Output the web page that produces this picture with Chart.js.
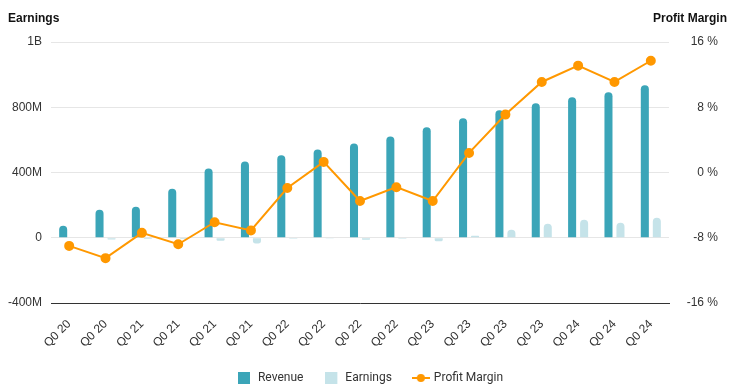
<!DOCTYPE html>
<html>
<head>
<meta charset="utf-8">
<script src="https://cdn.jsdelivr.net/npm/chart.js@4.4.1/dist/chart.umd.min.js"></script>
<style>
  html, body { margin: 0; padding: 0; background: #fff; }
  #wrap { width: 741px; height: 391px; }
</style>
</head>
<body>
<div id="wrap"><canvas id="chart" width="741" height="391"></canvas></div>
<script>
// data (values in millions / percent)
const quarters = ["Q0 20", "Q0 20", "Q0 21", "Q0 21", "Q0 21", "Q0 21", "Q0 22", "Q0 22", "Q0 22",
  "Q0 22", "Q0 23", "Q0 23", "Q0 23", "Q0 23", "Q0 24", "Q0 24", "Q0 24"];
const revenue = [74, 172, 190, 300, 425, 468, 505, 541, 578, 621, 677, 732, 781, 824, 862, 892, 935];
const earnings = [-3, -10, -7, -8, -18, -35, -6, -2, -12, -6, -22, 12, 49, 86, 111, 92, 123];
const profitMargin = [-9.0, -10.5, -7.4, -8.8, -6.1, -7.1, -1.9, 1.3, -3.5, -1.8, -3.5, 2.4, 7.1, 11.1, 13.1, 11.1, 13.7];
const leftTickLabels = { "-400": "-400M", "0": "0", "400": "400M", "800": "800M", "1200": "1B" };

const TEAL = "#3ba5b8";
const LIGHT = "#c5e3e9";
const ORANGE = "#ff9800";
const TXT = "#333333";
const TICK_FONT = { family: "'Liberation Sans', Arial, sans-serif", size: 12 };

// little canvases used as legend symbols
function boxIcon(color) {
  const c = document.createElement("canvas");
  c.width = 14; c.height = 12;
  const g = c.getContext("2d");
  g.fillStyle = color;
  g.fillRect(0, 0, 12, 12);
  return c;
}
function lineIcon(color) {
  const c = document.createElement("canvas");
  c.width = 18; c.height = 12;
  const g = c.getContext("2d");
  g.strokeStyle = color; g.lineWidth = 2;
  g.beginPath(); g.moveTo(0, 6); g.lineTo(18, 6); g.stroke();
  g.fillStyle = color;
  g.beginPath(); g.arc(9, 6, 4, 0, Math.PI * 2); g.fill();
  return c;
}

// axis titles on top of each y axis, and right tick labels right-aligned at x=718
const axisTitles = {
  id: "axisTitles",
  afterLayout(chart) {
    const s = chart.scales.y1;
    s.right = 718;
    s._labelItems = null;
  },
  afterDraw(chart) {
    const ctx = chart.ctx;
    ctx.save();
    ctx.font = "bold 12px 'Liberation Sans', Arial, sans-serif";
    ctx.fillStyle = "#111";
    ctx.textBaseline = "alphabetic";
    ctx.textAlign = "left";
    ctx.fillText("Earnings", 8, 22);
    ctx.textAlign = "right";
    ctx.fillText("Profit Margin", 727, 22);
    ctx.restore();
  }
};

new Chart(document.getElementById("chart"), {
  data: {
    labels: quarters,
    datasets: [
      {
        type: "line",
        label: "Profit Margin",
        data: profitMargin,
        yAxisID: "y1",
        borderColor: ORANGE,
        backgroundColor: ORANGE,
        pointBackgroundColor: ORANGE,
        pointBorderColor: ORANGE,
        borderWidth: 2,
        pointRadius: 4,
        tension: 0,
        order: 0
      },
      {
        type: "bar",
        label: "Revenue",
        data: revenue,
        yAxisID: "y",
        backgroundColor: TEAL,
        borderRadius: 4,
        borderSkipped: "start",
        categoryPercentage: 0.66,
        barPercentage: 0.67,
        order: 1
      },
      {
        type: "bar",
        label: "Earnings",
        data: earnings,
        yAxisID: "y",
        backgroundColor: LIGHT,
        borderRadius: 4,
        borderSkipped: "start",
        categoryPercentage: 0.66,
        barPercentage: 0.67,
        order: 1
      }
    ]
  },
  options: {
    responsive: false,
    animation: false,
    layout: { padding: { top: 42, left: 0, right: 0, bottom: -3 } },
    plugins: {
      tooltip: { enabled: false },
      legend: {
        position: "bottom",
        labels: {
          usePointStyle: true,
          pointStyleWidth: 14,
          boxHeight: 12,
          padding: 22,
          color: TXT,
          font: { family: "Roboto, sans-serif", size: 12 },
          generateLabels() {
            return [
              { text: "Revenue", pointStyle: boxIcon(TEAL), fillStyle: TEAL, strokeStyle: TEAL, lineWidth: 0, datasetIndex: 1, fontColor: TXT },
              { text: "Earnings", pointStyle: boxIcon(LIGHT), fillStyle: LIGHT, strokeStyle: LIGHT, lineWidth: 0, datasetIndex: 2, fontColor: TXT },
              { text: "Profit Margin", pointStyle: lineIcon(ORANGE), fillStyle: ORANGE, strokeStyle: ORANGE, lineWidth: 0, datasetIndex: 0, fontColor: TXT }
            ];
          }
        }
      }
    },
    scales: {
      x: {
        grid: { display: false, drawTicks: false },
        border: { display: true, color: "#333", width: 1 },
        ticks: { minRotation: 45, maxRotation: 45, color: TXT, font: TICK_FONT, padding: 14, autoSkip: false },
        afterFit(scale) { scale.height = 47; }
      },
      y: {
        position: "left",
        min: -400, max: 1200,
        grid: { color: "#e6e6e6", drawTicks: false },
        border: { display: false },
        ticks: {
          stepSize: 400, padding: 9, color: TXT, font: TICK_FONT,
          callback: (v) => leftTickLabels[String(v)]
        },
        afterFit(scale) { scale.width = 51; }
      },
      y1: {
        position: "right",
        min: -16, max: 16,
        grid: { display: false, drawTicks: false },
        border: { display: false },
        ticks: {
          stepSize: 8, padding: 10, crossAlign: "far", color: TXT, font: TICK_FONT,
          callback: (v) => v + " %"
        },
        afterFit(scale) { scale.width = 72; }
      }
    }
  },
  plugins: [axisTitles]
});
</script>
</body>
</html>
